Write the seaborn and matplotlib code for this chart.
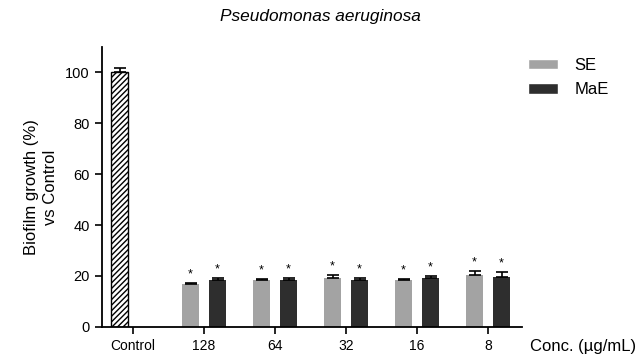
import matplotlib
matplotlib.use("Agg")
import matplotlib.pyplot as plt
import numpy as np
import pandas as pd
import seaborn as sns
from matplotlib.patches import Patch

sns.set_theme(style="ticks")
plt.rcParams["font.family"] = ["Liberation Sans", "DejaVu Sans"]
for key in ["text.color", "axes.labelcolor", "xtick.color", "ytick.color"]:
    plt.rcParams[key] = "black"

# --- données ---
categories = ["Control", "128", "64", "32", "16", "8"]
se_mean = [100.0, 16.8, 18.3, 19.0, 18.5, 20.2]
se_err = [1.7, 0.3, 0.4, 1.2, 0.2, 1.6]
mae_mean = [18.6, 18.6, 18.6, 19.2, 19.5]
mae_err = [0.7, 0.6, 0.5, 0.8, 2.1]
mae_categories = categories[1:]
significant = [False, True, True, True, True, True]

SE_COLOR = "#a3a3a3"
MAE_COLOR = "#2e2e2e"

df = pd.concat([
    pd.DataFrame({"conc": categories, "extract": "SE", "growth": se_mean}),
    pd.DataFrame({"conc": mae_categories, "extract": "MaE", "growth": mae_mean}),
], ignore_index=True)

fig = plt.figure(figsize=(6.4, 3.58), dpi=100)
ax = fig.add_axes([0.159, 0.087, 0.657, 0.782])

sns.barplot(data=df, x="conc", y="growth", hue="extract",
            order=categories, hue_order=["SE", "MaE"],
            palette=[SE_COLOR, MAE_COLOR], width=0.76, gap=0.37,
            errorbar=None, legend=False, ax=ax, linewidth=0)

# barre contrôle : blanche hachurée
ctrl = ax.containers[0].patches[0]
ctrl.set_facecolor("white")
ctrl.set_edgecolor("black")
ctrl.set_hatch("//////")
ctrl.set_linewidth(1.0)

# barres d'erreur (côté haut seulement) + étoiles
for container, means, errs, sig in [
    (ax.containers[0], se_mean, se_err, significant),
    (ax.containers[1], mae_mean, mae_err, [True] * len(mae_mean)),
]:
    for bar, m, e, s in zip(container.patches, means, errs, sig):
        xc = bar.get_x() + bar.get_width() / 2
        ax.errorbar(xc, m, yerr=[[0], [e]], fmt="none", ecolor="black",
                    elinewidth=1.2, capsize=4, capthick=1.2)
        if s:
            ax.text(xc, m + e + 3.4, "*", ha="center", va="center",
                    fontsize=9, color="black")

ax.set_xlim(-0.44, 5.48)
ax.set_ylim(0, 110)
ax.set_yticks([0, 20, 40, 60, 80, 100])
ax.set_xlabel("")
ax.set_ylabel("Biofilm growth (%)\nvs Control", fontsize=12, labelpad=5,
              linespacing=1.4)
ax.tick_params(axis="y", labelsize=10.5, width=1.2, length=5, direction="out")
ax.tick_params(axis="x", labelsize=10, width=1.2, length=5, direction="out")
sns.despine(ax=ax)
for side in ["left", "bottom"]:
    ax.spines[side].set_linewidth(1.3)
    ax.spines[side].set_color("black")

fig.text(0.5, 0.955, "Pseudomonas aeruginosa", ha="center", va="center",
         fontsize=12.4, style="italic")
fig.text(0.828, 0.031, "Conc. (µg/mL)", ha="left", va="center", fontsize=12)

handles = [Patch(facecolor=SE_COLOR, label="SE"),
           Patch(facecolor=MAE_COLOR, label="MaE")]
fig.legend(handles=handles, loc="upper left", bbox_to_anchor=(0.801, 0.88),
           frameon=False, fontsize=12, handlelength=1.8, handleheight=0.6,
           labelspacing=0.55, handletextpad=1.0)

fig.savefig("out.png", dpi=100)
